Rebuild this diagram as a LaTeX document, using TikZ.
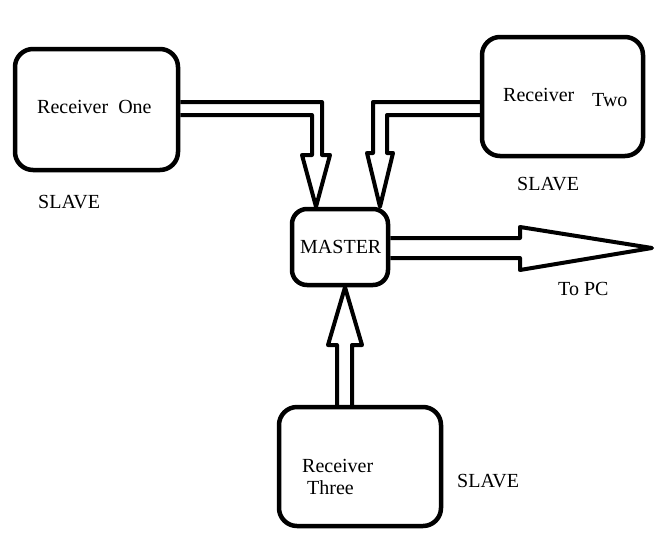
\documentclass[tikz,border=0pt]{standalone}
\usepackage{fontspec}
\setmainfont{Liberation Serif}
\newfontfamily\tnr{Liberation Serif}
\begin{document}
\begin{tikzpicture}[x=1pt,y=-1pt,
  box/.style={draw,line width=4.5pt,rounded corners=18pt,inner sep=0pt},
  lbl/.style={anchor=base west,inner sep=0pt,font=\tnr\fontsize{20}{24}\selectfont},
  blk/.style={draw,line width=4pt,line join=round}]
\useasboundingbox (0,0) rectangle (668,544);
% boxes
\node[box,minimum width=163pt,minimum height=121pt] (r1) at (96.5,109.5) {};
\node[box,minimum width=161pt,minimum height=119pt] (r2) at (562.5,96.5) {};
\node[box,rounded corners=15pt,minimum width=96pt,minimum height=76pt] (master) at (340,247) {};
\node[box,minimum width=162pt,minimum height=119pt] (r3) at (360,466.5) {};
% texts
\node[lbl] (t1) at (37,113) {Receiver\ \ One};
\node[lbl] (s1) at (38,208) {SLAVE};
\node[lbl] (t2a) at (503,101) {Receiver};
\node[lbl] (t2b) at (592,106) {Two};
\node[lbl] (s2) at (517,190) {SLAVE};
\node[lbl] (tm) at (300,253) {MASTER};
\node[lbl] (pc) at (558,295) {To PC};
\node[lbl] (t3a) at (302,472) {Receiver};
\node[lbl] (t3b) at (307,494) {Three};
\node[lbl] (s3) at (457,487) {SLAVE};
% block arrows
\draw[blk] (r1.east |- 0,102) -- (322,102) -- (322,155) -- (330,155) -- (316,0 |- master.north) -- (302,155) -- (312,155) -- (312,115) -- (r1.east |- 0,115);
\draw[blk] (r2.west |- 0,102) -- (373,102) -- (373,153) -- (367,153) -- (380,0 |- master.north) -- (393,153) -- (387,153) -- (387,115) -- (r2.west |- 0,115);
\draw[blk] (master.east |- 0,238) -- (520,238) -- (520,227) -- (652,248) -- (520,270) -- (520,258) -- (master.east |- 0,258);
\draw[blk] (337,0 |- r3.north) -- (337,345) -- (328,345) -- (345,0 |- master.south) -- (362,345) -- (352,345) -- (352,0 |- r3.north);
\end{tikzpicture}
\end{document}
